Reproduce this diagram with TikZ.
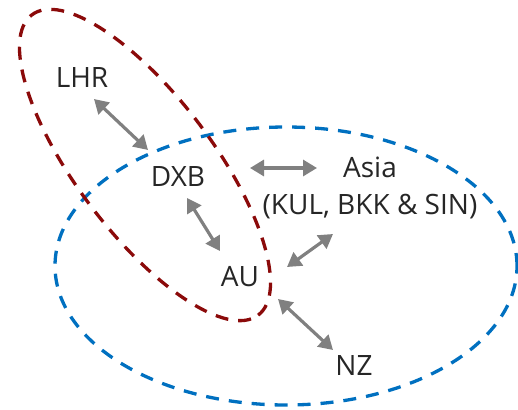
\documentclass[tikz,border=0pt]{standalone}
\usepackage{fontspec}
\setmainfont{Open Sans}
\usetikzlibrary{arrows.meta}
\definecolor{txtgray}{HTML}{262626}
\definecolor{arrgray}{HTML}{808080}
\definecolor{ringblue}{HTML}{0070C0}
\definecolor{ringred}{HTML}{8B0A0A}
\begin{document}
\begin{tikzpicture}[x=1pt,y=1pt,
  lbl/.style={text=txtgray, font=\fontsize{28}{32}\selectfont, inner sep=0pt},
  link/.style={draw=arrgray, line width=3.2pt,
    {Triangle[length=14pt,width=16pt]}-{Triangle[length=14pt,width=16pt]}},
  ring/.style={line width=3.3pt, dash pattern=on 13pt off 10pt}]
\useasboundingbox (0,0) rectangle (518,-409);

% zones
\draw[ring, draw=ringblue] (286,-266) ellipse [x radius=231, y radius=139];
\draw[ring, draw=ringred, rotate around={-53:(145,-165)}] (145,-165) ellipse [x radius=188, y radius=68];

% airports
\node[lbl] (lhr) at (82,-78) {LHR};
\node[lbl] (dxb) at (178,-177) {DXB};
\node[lbl] (asia) at (370,-167) {Asia};
\node[lbl] (asiaList) at (370,-207) {(KUL, BKK \& SIN)};
\node[lbl] (au) at (240,-277) {AU};
\node[lbl] (nz) at (354,-365) {NZ};

% arrow end points
\coordinate (lhrA) at (94,-99);
\coordinate (dxbA) at (148,-150);
\coordinate (dxbB) at (250,-168);
\coordinate (asiaB) at (317,-168);
\coordinate (dxbC) at (187,-198);
\coordinate (auC) at (220,-251);
\coordinate (auD) at (287,-267);
\coordinate (asiaD) at (333,-234);
\coordinate (auE) at (278,-299);
\coordinate (nzE) at (333,-350);

% links
\draw[link] (lhrA) -- (dxbA);
\draw[link] (dxbB) -- (asiaB);
\draw[link] (dxbC) -- (auC);
\draw[link] (auD) -- (asiaD);
\draw[link] (auE) -- (nzE);
\end{tikzpicture}
\end{document}
